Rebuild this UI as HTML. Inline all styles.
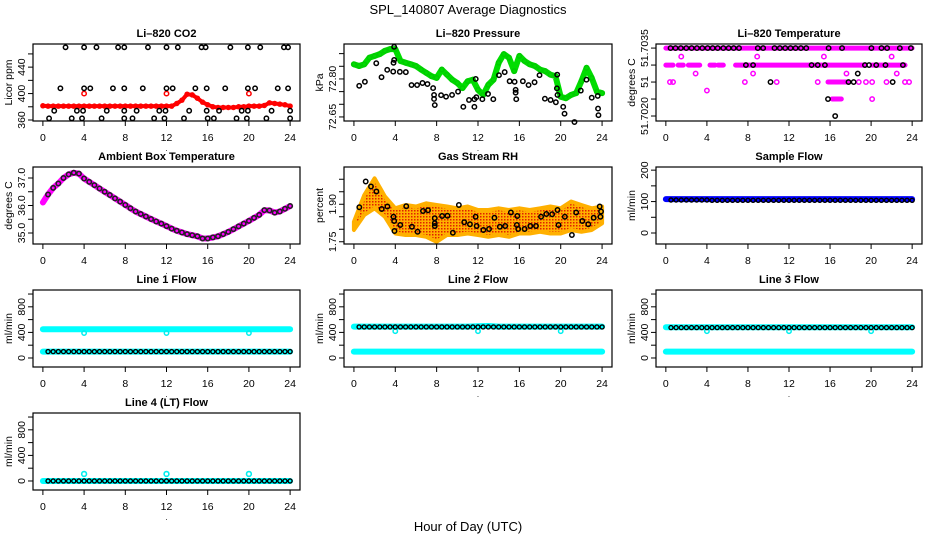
<!DOCTYPE html>
<html><head><meta charset="utf-8">
<style>
body{margin:0;background:#fff;}
svg{display:block;font-family:"Liberation Sans",Arial,sans-serif;}
</style></head>
<body>
<svg id="chart" width="936" height="540" viewBox="0 0 936 540" xmlns="http://www.w3.org/2000/svg">
<defs>
<pattern id="rhpat" width="3" height="3" patternUnits="userSpaceOnUse">
<rect width="3" height="3" fill="#ffb000"/><rect width="1.5" height="1.5" fill="#e02000"/>
</pattern>
</defs>
<text x="468" y="14" text-anchor="middle" font-size="13">SPL_140807  Average Diagnostics</text>
<text x="468" y="531" text-anchor="middle" font-size="13">Hour of Day (UTC)</text>
</svg>
<script>
// ---------- data ----------
const xTicks = [0,4,8,12,16,20,24];
const halfHours = [0,0.5,1,1.5,2,2.5,3,3.5,4,4.5,5,5.5,6,6.5,7,7.5,8,8.5,9,9.5,10,10.5,11,11.5,12,12.5,13,13.5,14,14.5,15,15.5,16,16.5,17,17.5,18,18.5,19,19.5,20,20.5,21,21.5,22,22.5,23,23.5,24];
const hours = [0,1,2,3,4,5,6,7,8,9,10,11,12,13,14,15,16,17,18,19,20,21,22,23,24];
const blackHours = [0.5,1,1.5,2,2.5,3,3.5,4,4.5,5,5.5,6,6.5,7,7.5,8,8.5,9,9.5,10,10.5,11,11.5,12,12.5,13,13.5,14,14.5,15,15.5,16,16.5,17,17.5,18,18.5,19,19.5,20,20.5,21,21.5,22,22.5,23,23.5,24];

// CO2
const co2Red = [381.5,381,381,381,381,381,381,381,381,381,381,381,381,381,381,381,381,381,381,381,381,381,381,381,381,381,385,390,399,398,393,387,383,380,379,379,379,379,380,380,381,381,381,382,386,385,384,383,381];
const co2RedOutHours = [4,12,20];
const co2RedOutVals = [400,400,400];
const co2BlkHours = [2.2,4.0,5.2,7.3,7.9,10.2,12.0,13.1,15.4,15.8,18.2,19.9,21.1,23.4,23.8, 1.7,4.0,4.6,6.8,7.9,9.7,12.0,12.6,14.8,15.9,17.7,19.9,20.6,22.8,23.8, 1.1,3.3,3.9,6.2,7.9,9.1,11.3,11.9,14.2,15.9,17.1,19.3,19.9,22.2,24.0, 0.6,2.8,3.8,5.7,7.9,8.7,10.8,11.8,13.7,16.0,16.6,18.8,19.8,21.7,24.0];
const co2BlkVals = [470,470,470,470,470,470,470,470,470,470,470,470,470,470,470, 408,408,408,408,408,408,408,408,408,408,408,408,408,408,408, 374,374,374,374,374,374,374,374,374,374,374,374,374,374,374, 362.5,362.5,362.5,362.5,362.5,362.5,362.5,362.5,362.5,362.5,362.5,362.5,362.5,362.5,362.5];

// Pressure
const presGreen = [72.858,72.851,72.858,72.884,72.891,72.898,72.911,72.918,72.918,72.871,72.864,72.858,72.851,72.837,72.824,72.811,72.804,72.837,72.817,72.797,72.784,72.764,72.791,72.797,72.757,72.737,72.777,72.797,72.864,72.898,72.884,72.831,72.891,72.871,72.858,72.851,72.837,72.831,72.817,72.811,72.730,72.724,72.737,72.744,72.791,72.844,72.804,72.750,72.744];
const presBlkHours = [0.51,1.06,2.16,2.67,3.22,3.80,3.89,3.89,3.83,4.44,5.02,5.57,6.11,6.63,7.11,7.66,7.75,7.75,7.82,8.43,8.91,9.49,10.07,10.58,11.13,11.65,11.65,11.78,11.84,12.42,12.97,13.48,14.03,14.58,15.06,15.54,15.64,15.64,15.70,16.34,16.89,17.47,17.95,18.47,19.02,19.53,19.66,19.63,19.69,20.24,20.37,21.33,21.94,22.49,23.0,23.58,23.61,23.65];
const presBlkVals = [72.773,72.789,72.862,72.807,72.836,72.829,72.927,72.875,72.864,72.828,72.827,72.776,72.776,72.784,72.780,72.764,72.737,72.721,72.697,72.736,72.730,72.737,72.750,72.690,72.717,72.720,72.690,72.800,72.728,72.720,72.741,72.720,72.815,72.827,72.791,72.789,72.757,72.746,72.720,72.791,72.776,72.787,72.815,72.722,72.717,72.708,72.817,72.763,72.737,72.690,72.663,72.630,72.754,72.797,72.726,72.733,72.683,72.657];

// Temperature (values are 51.7020 + k*0.0001875)
const tempStep = 0.0001875;
const tempBase = 51.7020;
const tempMagSegStart = [0,0,1.2,2.2,4.3,5.1,6.8,20.1,15.8,16.2];
const tempMagSegEnd   = [24,0.7,1.7,3.3,4.8,5.6,19.4,23.3,17.7,17.1];
const tempMagSegVals  = [51.7035,51.703125,51.703125,51.703125,51.703125,51.703125,51.703125,51.703125,51.70275,51.702375];
const tempMagHours = [0.4,0.7,7.7,10.8,14.8,18.8,19.5,20.1,21.5,23.3,23.7, 1.5,8.9,15.4,22.0, 2.9,8.5,17.6,22.5, 4.0, 20.1];
const tempMagVals = [51.70275,51.70275,51.70275,51.70275,51.70275,51.70275,51.70275,51.70275,51.70275,51.70275,51.70275, 51.7033125,51.7033125,51.7033125,51.7033125, 51.7029375,51.7029375,51.7029375,51.7029375, 51.7025625, 51.702375];
const tempBlkHours = [0.46,0.94,1.46,1.99,2.51,3.03,3.55,4.07,4.56,5.05,5.6,6.12,6.61,7.13,8.96,9.48,10.59,11.11,11.63,12.15,12.64,13.16,13.68,15.86,17.17,20.03,21.01,21.56,22.8,23.88, 7.8,8.5,14.2,14.8,15.5,19.4,19.8,20.5,21.4,23.1, 18.7, 10.2,17.8,18.3,22.1, 15.8, 16.5];
const tempBlkVals = [51.7035,51.7035,51.7035,51.7035,51.7035,51.7035,51.7035,51.7035,51.7035,51.7035,51.7035,51.7035,51.7035,51.7035,51.7035,51.7035,51.7035,51.7035,51.7035,51.7035,51.7035,51.7035,51.7035,51.7035,51.7035,51.7035,51.7035,51.7035,51.7035,51.7035, 51.703125,51.703125,51.703125,51.703125,51.703125,51.703125,51.703125,51.703125,51.703125,51.703125, 51.7029375, 51.70275,51.70275,51.70275,51.70275, 51.702375, 51.7020];

// Ambient box temperature
const ambHours = [0,0.5,1,1.5,2,2.5,3,3.5,4,4.5,5,5.5,6,6.5,7,7.5,8,8.5,9,9.5,10,10.5,11,11.5,12,12.5,13,13.5,14,14.5,15,15.5,16,16.5,17,17.5,18,18.5,19,19.5,20,20.5,21,21.5,22,22.5,23,23.5,24];
const ambVals = [36.11,36.40,36.64,36.80,37.00,37.13,37.19,37.16,36.98,36.86,36.74,36.62,36.50,36.38,36.26,36.14,36.02,35.90,35.78,35.69,35.60,35.51,35.42,35.34,35.25,35.16,35.08,35.02,34.96,34.92,34.88,34.80,34.80,34.84,34.88,34.96,35.04,35.14,35.24,35.34,35.44,35.55,35.66,35.83,35.82,35.74,35.78,35.88,35.98];

// Gas stream RH
const rhUpper = [1.830,1.937,2.004,1.931,1.884,1.897,1.891,1.904,1.897,1.891,1.884,1.891,1.877,1.877,1.884,1.877,1.884,1.877,1.884,1.891,1.884,1.911,1.897,1.884,1.891];
const rhLower = [1.797,1.857,1.884,1.850,1.783,1.777,1.777,1.770,1.750,1.777,1.777,1.783,1.777,1.770,1.777,1.770,1.783,1.783,1.790,1.783,1.783,1.797,1.790,1.797,1.824];
const rhBlkHours = [0.52,1.14,1.65,2.17,2.69,3.24,3.83,3.89,3.92,4.48,5.06,5.61,6.16,6.68,7.17,7.82,7.82,7.82,8.53,9.05,9.57,10.15,10.67,11.22,11.77,11.87,12.52,13.07,13.59,14.11,14.63,15.18,15.8,15.76,15.89,16.51,17.06,17.61,18.1,18.61,19.17,19.69,19.79,20.4,21.08,21.5,22.09,22.67,23.19,23.77,23.84,23.9];
const rhBlkVals = [1.888,1.991,1.971,1.951,1.881,1.891,1.850,1.833,1.793,1.817,1.892,1.810,1.790,1.873,1.876,1.844,1.824,1.813,1.853,1.854,1.786,1.897,1.828,1.820,1.850,1.813,1.797,1.801,1.846,1.810,1.813,1.867,1.853,1.817,1.801,1.801,1.813,1.813,1.850,1.861,1.860,1.877,1.817,1.850,1.777,1.867,1.833,1.820,1.846,1.891,1.850,1.871];

// Sample flow
const sampleBlue = [108,108,108,108,108,108,108,108,108,108,108,108,108,108,108,108,108,108,108,108,108,108,108,108,108];
const sampleBlk = [105,105,105,105,105,104,104,104,104,104,104,104,104,104,104,104,104,104,104,104,104,104,104,104,104];

// Line flows
const l1CyanHigh = [450,450,450,450,450,450,450,450,450,450,450,450,450,450,450,450,450,450,450,450,450,450,450,450,450];
const l1CyanLow = [100,100,100,100,100,100,100,100,100,100,100,100,100,100,100,100,100,100,100,100,100,100,100,100,100];
const l1Black = [100,100,100,100,100,100,100,100,100,100,100,100,100,100,100,100,100,100,100,100,100,100,100,100,100];
const l1DipVals = [390,390,390];
const l2CyanHigh = [490,490,490,490,490,490,490,490,490,490,490,490,495,500,490,490,490,490,490,490,490,490,490,490,490];
const l2CyanLow = [100,100,100,100,100,100,100,100,100,100,100,100,100,100,100,100,100,100,100,100,100,100,100,100,100];
const l2Black = [485,485,485,485,485,485,485,485,485,485,485,485,485,485,485,485,485,485,485,485,485,485,485,485,485];
const l2DipVals = [420,420,420];
const l3CyanHigh = [480,480,480,480,480,480,480,480,480,480,480,480,480,480,480,480,480,480,480,480,480,480,480,480,480];
const l3CyanLow = [100,100,100,100,100,100,100,100,100,100,100,100,100,100,100,100,100,100,100,100,100,100,100,100,100];
const l3Black = [475,475,475,475,475,475,475,475,475,475,475,475,475,475,475,475,475,475,475,475,475,475,475,475,475];
const l3DipVals = [420,420,420];
const l4Cyan = [0,0,0,0,0,0,0,0,0,0,0,0,0,0,0,0,0,0,0,0,0,0,0,0,0];
const l4Black = [0,0,0,0,0,0,0,0,0,0,0,0,0,0,0,0,0,0,0,0,0,0,0,0,0];
const l4SpikeVals = [110,110,110];
const dipHours = [4,12,20];

// ---------- drawing ----------
const NS = "http://www.w3.org/2000/svg";
const svg = document.getElementById('chart');
const cols = [[33,300],[344,612],[656,922]];
function mk(tag, attrs, parent){
  const e = document.createElementNS(NS, tag);
  for (const k in attrs) e.setAttribute(k, attrs[k]);
  (parent||svg).appendChild(e);
  return e;
}
function makePanel(name, col, row, ydom, title, ylab, yTicks, yLabels){
  const g = mk('g', {});
  
  
  const x0 = cols[col][0], x1 = cols[col][1];
  const y0 = 44 + 123*row, y1 = y0 + 77;
  const sx = h => x0 + (h + 0.96)/25.92*(x1 - x0);
  const sy = v => y1 - (v - ydom[0])/(ydom[1] - ydom[0])*(y1 - y0);
  const t = mk('text', {x:(x0+x1)/2, y:y0-7, 'text-anchor':'middle', 'font-size':11, 'font-weight':'bold'}, g);
  t.textContent = title;
  
  
  const yl = mk('text', {x:0, y:0, transform:`translate(${x0-21},${(y0+y1)/2}) rotate(-90)`, 'text-anchor':'middle', 'font-size':10.5}, g);
  yl.textContent = ylab;
  
  
  const plot = mk('g', {}, g);
  
  
  const box = mk('rect', {x:x0, y:y0, width:x1-x0, height:y1-y0, fill:'none', stroke:'#000', 'stroke-width':1.2}, g);
  
  
  const xa = mk('g', {}, g);
  
  
  mk('line', {x1:sx(0), x2:sx(24), y1:y1, y2:y1, stroke:'#000'}, xa);
  xTicks.forEach(v => {
    mk('line', {x1:sx(v), x2:sx(v), y1:y1, y2:y1+5, stroke:'#000'}, xa);
    const tl = mk('text', {x:sx(v), y:y1+20, 'text-anchor':'middle', 'font-size':10.5}, xa);
    tl.textContent = v;
    
    
  });
  const dot = mk('text', {x:(x0+x1)/2, y:y1+30, 'text-anchor':'middle', 'font-size':8}, xa);
  dot.textContent = '.';
  const ya = mk('g', {}, g);
  
  
  mk('line', {x1:x0, x2:x0, y1:sy(yTicks[0]), y2:sy(yTicks[yTicks.length-1]), stroke:'#000'}, ya);
  yTicks.forEach((v,i) => {
    mk('line', {x1:x0-5, x2:x0, y1:sy(v), y2:sy(v), stroke:'#000'}, ya);
    if (yLabels[i] !== '') {
      const tl = mk('text', {x:0, y:0, transform:`translate(${x0-8},${sy(v)}) rotate(-90)`, 'text-anchor':'middle', 'font-size':10.5}, ya);
      tl.textContent = yLabels[i];
      
      
    }
  });
  return {plot, sx, sy};
}
function pts(p, hs, vs, color, r, sw, nm){
  const g = mk('g', {fill:'none', stroke:color, 'stroke-width':sw}, p.plot);
  
  
  hs.forEach((h,i) => {
    const c = mk('circle', {cx:p.sx(h), cy:p.sy(vs[i]), r:r}, g);
    
    
  });
}
function band(p, hs, vs, color, w, nm){
  const d = hs.map((h,i) => (i?'L':'M') + p.sx(h).toFixed(1) + ',' + p.sy(vs[i]).toFixed(1)).join('');
  const e = mk('path', {d:d, fill:'none', stroke:color, 'stroke-width':w, 'stroke-linejoin':'round', 'stroke-linecap':'round'}, p.plot);
  
  
}

// Li-820 CO2
let p = makePanel('co2', 0, 0, [358.5, 475], 'Li\u2013820 CO2', 'Licor ppm', [360,380,400,420,440,460], ['360','','400','','440','']);
band(p, halfHours, co2Red, '#ff0000', 4, 'co2-red-band');
pts(p, halfHours, co2Red, '#ff0000', 2, 1.5, 'co2-red-series');
pts(p, co2RedOutHours, co2RedOutVals, '#ff0000', 2.2, 1.5, 'co2-red-outliers');
pts(p, co2BlkHours, co2BlkVals, '#000', 2.2, 1.5, 'co2-black-series');

// Pressure
p = makePanel('pressure', 1, 0, [72.634, 72.938], 'Li\u2013820 Pressure', 'kPa', [72.65,72.70,72.75,72.80,72.85,72.90], ['72.65','','','72.80','','']);
band(p, halfHours, presGreen, '#00dd00', 6, 'pressure-green-band');
pts(p, halfHours, presGreen, '#00cc00', 2.2, 1.5, 'pressure-green-series');
pts(p, presBlkHours, presBlkVals, '#000', 2.2, 1.5, 'pressure-black-series');

// Temperature
p = makePanel('li820-temp', 2, 0, [51.70189, 51.70359], 'Li\u2013820 Temperature', 'degrees C',
  [tempBase, tempBase+2*tempStep, tempBase+4*tempStep, tempBase+6*tempStep, tempBase+8*tempStep], ['51.7020','','51','','51.7035']);
tempMagSegStart.forEach((s,i) => band(p, [s, tempMagSegEnd[i]], [tempMagSegVals[i], tempMagSegVals[i]], '#ff00ff', 5, 'temp-magenta-run'));
pts(p, tempMagHours, tempMagVals, '#ff00ff', 2.2, 1.5, 'temp-magenta-series');
pts(p, tempBlkHours, tempBlkVals, '#000', 2.2, 1.5, 'temp-black-series');

// Ambient
p = makePanel('ambient', 0, 1, [34.6, 37.4], 'Ambient Box Temperature', 'degrees C', [35.0,35.5,36.0,36.5,37.0], ['35.0','','36.0','','37.0']);
band(p, ambHours, ambVals, '#ff00ff', 6, 'ambient-magenta-band');
pts(p, ambHours.slice(1), ambVals.slice(1), '#222', 2.2, 1.6, 'ambient-black-series');

// RH
p = makePanel('rh', 1, 1, [1.741, 2.049], 'Gas Stream RH', 'percent', [1.75,1.80,1.85,1.90,1.95,2.00], ['1.75','','','1.90','','']);
{
  const up = hours.map((h,i) => p.sx(h).toFixed(1)+','+p.sy(rhUpper[i]).toFixed(1));
  const lo = hours.slice().reverse().map((h,j) => { const i = hours.length-1-j; return p.sx(h).toFixed(1)+','+p.sy(rhLower[i]).toFixed(1); });
  const poly = mk('polygon', {points: up.concat(lo).join(' '), fill:'url(#rhpat)', stroke:'#ffb000', 'stroke-width':4, 'stroke-linejoin':'round'}, p.plot);
  
  
}
pts(p, rhBlkHours, rhBlkVals, '#000', 2.2, 1.5, 'rh-black-series');

// Sample flow
p = makePanel('sample-flow', 2, 1, [-35, 210], 'Sample Flow', 'ml/min', [0,50,100,150,200], ['0','','100','','200']);
band(p, hours, sampleBlue, '#0000ff', 6, 'sample-blue-band');
pts(p, blackHours, blackHours.map((h,i)=>sampleBlk[Math.min(24,Math.round(h))]), '#000', 2, 1.4, 'sample-black-series');

// Line flows
const fT = [0,200,400,600,800,1000], fL = ['0','','400','','800',''];
p = makePanel('line1-flow', 0, 2, [-141, 1063], 'Line 1 Flow', 'ml/min', fT, fL);
band(p, hours, l1CyanHigh, '#00ffff', 6, 'line1-cyan-high');
band(p, hours, l1CyanLow, '#00ffff', 6, 'line1-cyan-low');
pts(p, dipHours, l1DipVals, '#00eeee', 2.2, 1.5, 'line1-cyan-dips');
pts(p, blackHours, blackHours.map(h=>l1Black[Math.min(24,Math.round(h))]), '#000', 2, 1.4, 'line1-black-series');

p = makePanel('line2-flow', 1, 2, [-141, 1063], 'Line 2 Flow', 'ml/min', fT, fL);
band(p, hours, l2CyanHigh, '#00ffff', 6, 'line2-cyan-high');
band(p, hours, l2CyanLow, '#00ffff', 6, 'line2-cyan-low');
pts(p, dipHours, l2DipVals, '#00eeee', 2.2, 1.5, 'line2-cyan-dips');
pts(p, blackHours, blackHours.map(h=>l2Black[Math.min(24,Math.round(h))]), '#000', 2, 1.4, 'line2-black-series');

p = makePanel('line3-flow', 2, 2, [-141, 1063], 'Line 3 Flow', 'ml/min', fT, fL);
band(p, hours, l3CyanHigh, '#00ffff', 6, 'line3-cyan-high');
band(p, hours, l3CyanLow, '#00ffff', 6, 'line3-cyan-low');
pts(p, dipHours, l3DipVals, '#00eeee', 2.2, 1.5, 'line3-cyan-dips');
pts(p, blackHours, blackHours.map(h=>l3Black[Math.min(24,Math.round(h))]), '#000', 2, 1.4, 'line3-black-series');

p = makePanel('line4-flow', 0, 3, [-141, 1063], 'Line 4 (LT) Flow', 'ml/min', fT, fL);
band(p, hours, l4Cyan, '#00ffff', 6, 'line4-cyan-band');
pts(p, dipHours, l4SpikeVals, '#00eeee', 2.4, 1.6, 'line4-cyan-spikes');
pts(p, blackHours, blackHours.map(h=>l4Black[Math.min(24,Math.round(h))]), '#000', 2, 1.4, 'line4-black-series');
</script>
</body></html>
